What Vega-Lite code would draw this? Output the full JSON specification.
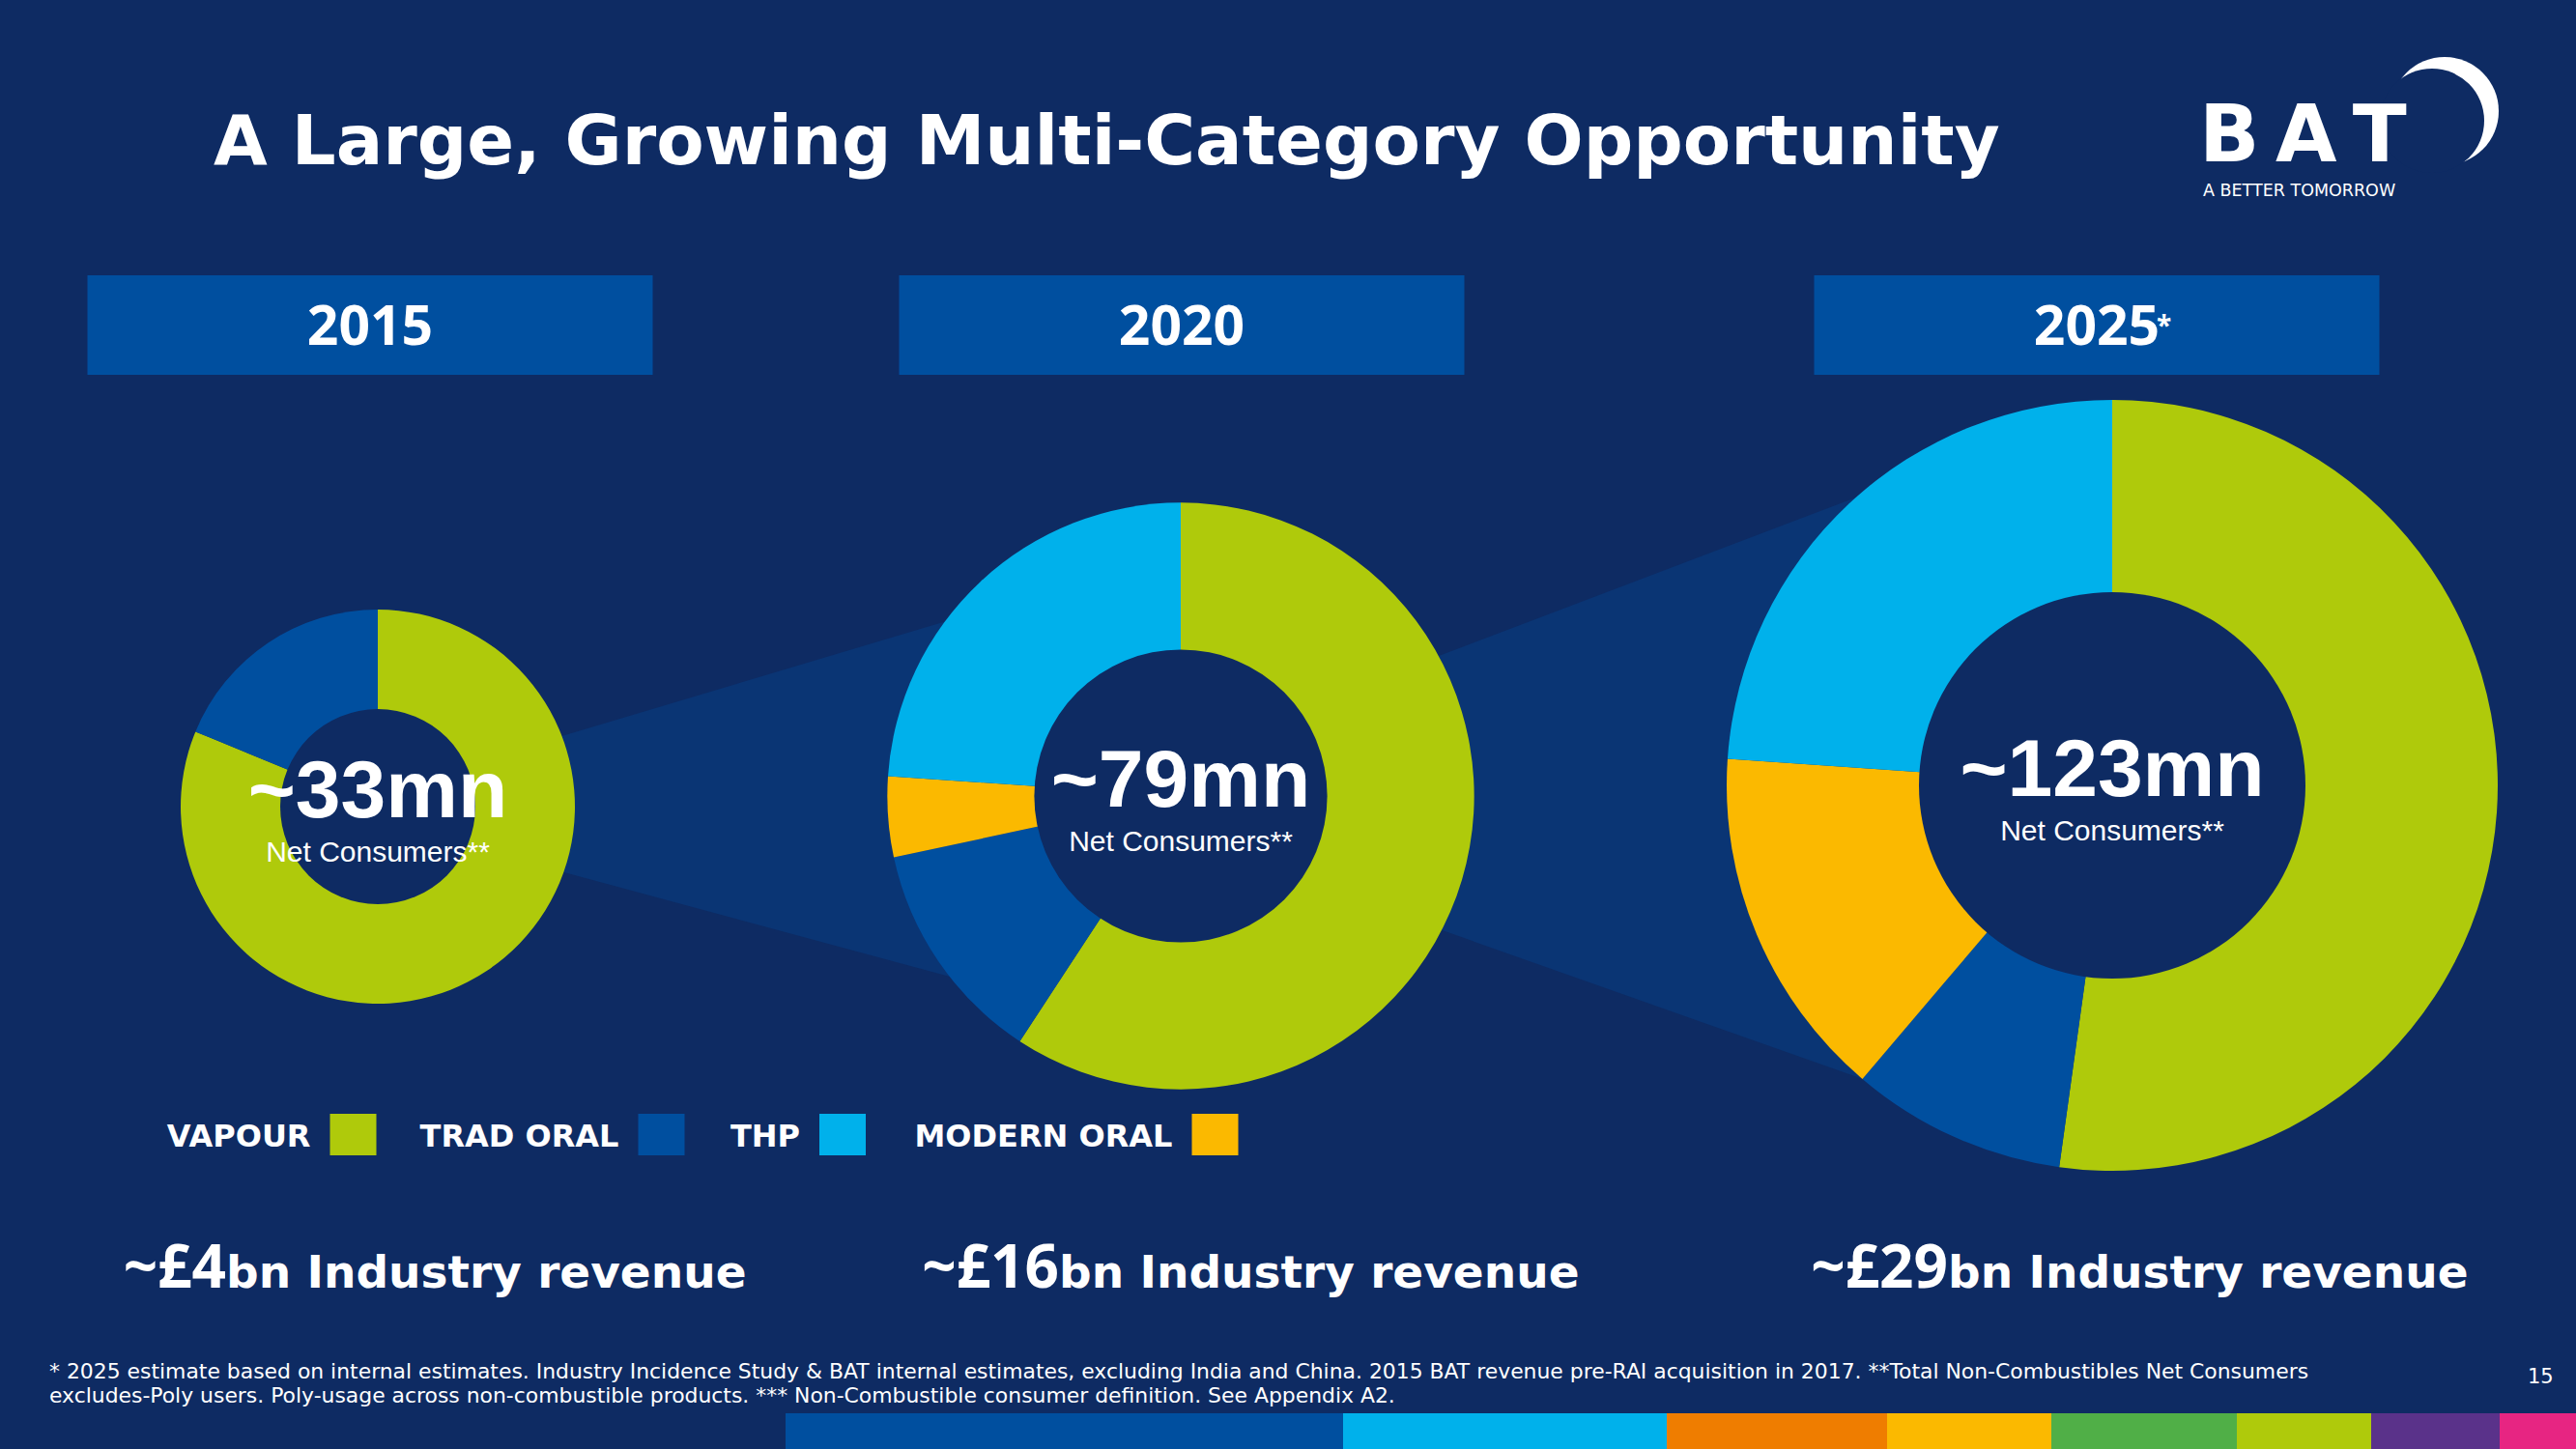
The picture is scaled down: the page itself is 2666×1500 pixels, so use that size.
{
  "$schema": "https://vega.github.io/schema/vega-lite/v6.json",
  "width": 2666,
  "height": 1500,
  "autosize": {"type": "fit", "contains": "padding"},
  "padding": 0,
  "background": "#0e2b63",
  "config": {"view": {"stroke": null}},
  "datasets": {
    "years": [
      {"year": 2015, "total": 33, "consumers": "~33mn", "rev": "~£4", "note": ""},
      {"year": 2020, "total": 79, "consumers": "~79mn", "rev": "~£16", "note": ""},
      {"year": 2025, "total": 123, "consumers": "~123mn", "rev": "~£29", "note": "*"}
    ],
    "segments": [
      {"year": 2015, "category": "Vapour", "order": 1, "value": 26.8},
      {"year": 2015, "category": "Trad Oral", "order": 2, "value": 6.2},
      {"year": 2020, "category": "Vapour", "order": 1, "value": 46.8},
      {"year": 2020, "category": "Trad Oral", "order": 2, "value": 9.8},
      {"year": 2020, "category": "Modern Oral", "order": 3, "value": 3.5},
      {"year": 2020, "category": "THP", "order": 4, "value": 18.9},
      {"year": 2025, "category": "Vapour", "order": 1, "value": 64.2},
      {"year": 2025, "category": "Trad Oral", "order": 2, "value": 11.1},
      {"year": 2025, "category": "Modern Oral", "order": 3, "value": 18.3},
      {"year": 2025, "category": "THP", "order": 4, "value": 29.4}
    ],
    "connectors": [
      {"band": "a", "year": 2015, "total": 33},
      {"band": "a", "year": 2020, "total": 79},
      {"band": "b", "year": 2020, "total": 79},
      {"band": "b", "year": 2025, "total": 123}
    ],
    "categories": [
      {"category": "Vapour", "label": "VAPOUR", "slot": 1},
      {"category": "Trad Oral", "label": "TRAD ORAL", "slot": 2},
      {"category": "THP", "label": "THP", "slot": 3},
      {"category": "Modern Oral", "label": "MODERN ORAL", "slot": 4}
    ],
    "palette": [
      {"i": 0, "j": 1, "name": "Blue"},
      {"i": 1, "j": 2, "name": "Light Blue"},
      {"i": 2, "j": 3, "name": "Orange"},
      {"i": 3, "j": 4, "name": "Yellow"},
      {"i": 4, "j": 5, "name": "Green"},
      {"i": 5, "j": 6, "name": "Lime"},
      {"i": 6, "j": 7, "name": "Purple"},
      {"i": 7, "j": 8, "name": "Pink"}
    ]
  },
  "resolve": {"scale": {"x": "independent", "y": "independent", "size": "independent", "radius": "independent", "theta": "independent", "color": "independent"}},
  "layer": [
    {
      "data": {"name": "connectors"},
      "transform": [{"filter": "datum.band === 'a'"}],
      "mark": {"type": "trail", "color": "#0a3574"},
      "encoding": {
        "x": {"field": "year", "type": "quantitative", "axis": null, "scale": {"type": "linear", "domain": [2015, 2020, 2025], "range": [391, 1222, 2186], "zero": false, "nice": false}},
        "y": {"field": "year", "type": "quantitative", "axis": null, "scale": {"type": "linear", "domain": [2015, 2025], "range": [835, 813], "zero": false, "nice": false}},
        "size": {"field": "total", "type": "quantitative", "legend": null, "scale": {"type": "linear", "domain": [33, 79], "range": [32, 505], "zero": false, "nice": false}}
      }
    },
    {
      "data": {"name": "connectors"},
      "transform": [{"filter": "datum.band === 'b'"}],
      "mark": {"type": "trail", "color": "#0a3574"},
      "encoding": {
        "x": {"field": "year", "type": "quantitative", "axis": null, "scale": {"type": "linear", "domain": [2015, 2020, 2025], "range": [391, 1222, 2186], "zero": false, "nice": false}},
        "y": {"field": "year", "type": "quantitative", "axis": null, "scale": {"type": "linear", "domain": [2015, 2025], "range": [835, 813], "zero": false, "nice": false}},
        "size": {"field": "total", "type": "quantitative", "legend": null, "scale": {"type": "linear", "domain": [79, 123], "range": [87, 794], "zero": false, "nice": false}}
      }
    },
    {
      "data": {"name": "years"},
      "mark": {"type": "rect", "width": 585, "y": 285, "y2": 388, "color": "#004f9f"},
      "encoding": {
        "x": {"field": "year", "type": "quantitative", "axis": null, "scale": {"type": "linear", "domain": [2015, 2020, 2025], "range": [383, 1223, 2170], "zero": false, "nice": false}}
      }
    },
    {
      "data": {"name": "years"},
      "mark": {"type": "text", "y": 357, "baseline": "alphabetic", "align": "center", "font": "Open Sans", "fontWeight": "bold", "fontSize": 57, "color": "white"},
      "encoding": {
        "x": {"field": "year", "type": "quantitative", "axis": null, "scale": {"type": "linear", "domain": [2015, 2020, 2025], "range": [383, 1223, 2170], "zero": false, "nice": false}},
        "text": {"field": "year", "type": "nominal"}
      }
    },
    {
      "data": {"name": "years"},
      "transform": [{"filter": "datum.note !== ''"}],
      "mark": {"type": "text", "y": 347, "dx": 62, "baseline": "alphabetic", "align": "left", "font": "Open Sans", "fontWeight": "bold", "fontSize": 28, "color": "white"},
      "encoding": {
        "x": {"field": "year", "type": "quantitative", "axis": null, "scale": {"type": "linear", "domain": [2015, 2020, 2025], "range": [383, 1223, 2170], "zero": false, "nice": false}},
        "text": {"field": "note", "type": "nominal"}
      }
    },
    {
      "data": {"name": "segments"},
      "transform": [
        {"joinaggregate": [{"op": "sum", "field": "value", "as": "total"}], "groupby": ["year"]},
        {"stack": "value", "groupby": ["year"], "sort": [{"field": "order", "order": "ascending"}], "offset": "normalize", "as": ["v0", "v1"]}
      ],
      "mark": {"type": "arc", "radius2": 0},
      "encoding": {
        "x": {"field": "year", "type": "quantitative", "axis": null, "scale": {"type": "linear", "domain": [2015, 2020, 2025], "range": [391, 1222, 2186], "zero": false, "nice": false}},
        "y": {"field": "year", "type": "quantitative", "axis": null, "scale": {"type": "linear", "domain": [2015, 2025], "range": [835, 813], "zero": false, "nice": false}},
        "radius": {"field": "total", "type": "quantitative", "stack": null, "scale": {"type": "linear", "domain": [33, 123], "range": [204, 399], "zero": false, "nice": false}},
        "theta": {"field": "v0", "type": "quantitative", "stack": null, "scale": {"domain": [0, 1], "range": [0, 6.283185307]}},
        "theta2": {"field": "v1"},
        "color": {"field": "category", "type": "nominal", "legend": null, "scale": {"domain": ["Vapour", "Trad Oral", "Modern Oral", "THP"], "range": ["#afca0b", "#004f9f", "#fbb900", "#00b1eb"]}}
      }
    },
    {
      "data": {"name": "years"},
      "mark": {"type": "arc", "theta": 0, "theta2": 6.2832, "radius2": 0, "color": "#0e2b63"},
      "encoding": {
        "x": {"field": "year", "type": "quantitative", "axis": null, "scale": {"type": "linear", "domain": [2015, 2020, 2025], "range": [391, 1222, 2186], "zero": false, "nice": false}},
        "y": {"field": "year", "type": "quantitative", "axis": null, "scale": {"type": "linear", "domain": [2015, 2025], "range": [835, 813], "zero": false, "nice": false}},
        "radius": {"field": "total", "type": "quantitative", "stack": null, "scale": {"type": "linear", "domain": [33, 123], "range": [101, 200], "zero": false, "nice": false}}
      }
    },
    {
      "data": {"name": "years"},
      "mark": {"type": "text", "dy": 11, "baseline": "alphabetic", "align": "center", "font": "Liberation Sans", "fontWeight": "bold", "fontSize": 84, "color": "white"},
      "encoding": {
        "x": {"field": "year", "type": "quantitative", "axis": null, "scale": {"type": "linear", "domain": [2015, 2020, 2025], "range": [391, 1222, 2186], "zero": false, "nice": false}},
        "y": {"field": "year", "type": "quantitative", "axis": null, "scale": {"type": "linear", "domain": [2015, 2025], "range": [835, 813], "zero": false, "nice": false}},
        "text": {"field": "consumers", "type": "nominal"}
      }
    },
    {
      "data": {"name": "years"},
      "mark": {"type": "text", "text": "Net Consumers**", "dy": 57, "baseline": "alphabetic", "align": "center", "font": "Liberation Sans", "fontSize": 30, "color": "white"},
      "encoding": {
        "x": {"field": "year", "type": "quantitative", "axis": null, "scale": {"type": "linear", "domain": [2015, 2020, 2025], "range": [391, 1222, 2186], "zero": false, "nice": false}},
        "y": {"field": "year", "type": "quantitative", "axis": null, "scale": {"type": "linear", "domain": [2015, 2025], "range": [835, 813], "zero": false, "nice": false}}
      }
    },
    {
      "data": {"name": "years"},
      "mark": {"type": "text", "y": 1333, "baseline": "alphabetic", "align": "right", "font": "Open Sans", "fontWeight": "bold", "fontSize": 62, "color": "white"},
      "encoding": {
        "x": {"field": "year", "type": "quantitative", "axis": null, "scale": {"type": "linear", "domain": [2015, 2020, 2025], "range": [234, 1096, 2016], "zero": false, "nice": false}},
        "text": {"field": "rev", "type": "nominal"}
      }
    },
    {
      "data": {"name": "years"},
      "mark": {"type": "text", "text": "bn Industry revenue", "y": 1333, "baseline": "alphabetic", "align": "left", "font": "DejaVu Sans", "fontWeight": "bold", "fontSize": 47, "color": "white"},
      "encoding": {
        "x": {"field": "year", "type": "quantitative", "axis": null, "scale": {"type": "linear", "domain": [2015, 2020, 2025], "range": [234, 1096, 2016], "zero": false, "nice": false}}
      }
    },
    {
      "data": {"name": "categories"},
      "mark": {"type": "rect", "width": 48, "y": 1153, "y2": 1196},
      "encoding": {
        "x": {"field": "slot", "type": "quantitative", "axis": null, "scale": {"type": "linear", "domain": [1, 2, 3, 4], "range": [365.5, 684.5, 872, 1257.5], "zero": false, "nice": false}},
        "color": {"field": "category", "type": "nominal", "legend": null, "scale": {"domain": ["Vapour", "Trad Oral", "Modern Oral", "THP"], "range": ["#afca0b", "#004f9f", "#fbb900", "#00b1eb"]}}
      }
    },
    {
      "data": {"name": "categories"},
      "mark": {"type": "text", "y": 1187, "dx": -44, "baseline": "alphabetic", "align": "right", "font": "DejaVu Sans", "fontWeight": "bold", "fontSize": 32, "color": "white"},
      "encoding": {
        "x": {"field": "slot", "type": "quantitative", "axis": null, "scale": {"type": "linear", "domain": [1, 2, 3, 4], "range": [365.5, 684.5, 872, 1257.5], "zero": false, "nice": false}},
        "text": {"field": "label", "type": "nominal"}
      }
    },
    {
      "data": {"name": "palette"},
      "mark": {"type": "rect", "y": 1463, "y2": 1500},
      "encoding": {
        "x": {"field": "i", "type": "quantitative", "axis": null, "scale": {"type": "linear", "domain": [0, 1, 2, 3, 4, 5, 6, 7, 8], "range": [813, 1390, 1725, 1953, 2123, 2315, 2454, 2587, 2666], "zero": false, "nice": false}},
        "x2": {"field": "j"},
        "color": {"field": "name", "type": "nominal", "legend": null, "scale": {"domain": ["Blue", "Light Blue", "Orange", "Yellow", "Green", "Lime", "Purple", "Pink"], "range": ["#004f9f", "#00b1eb", "#ef7d00", "#fbb900", "#50af47", "#afca0b", "#5a328a", "#e72582"]}}
      }
    },
    {
      "data": {"values": [{}]},
      "mark": {"type": "text", "text": "A Large, Growing Multi-Category Opportunity", "x": 221, "y": 170, "align": "left", "baseline": "alphabetic", "font": "DejaVu Sans", "fontWeight": "bold", "fontSize": 72, "color": "white"},
      "encoding": {}
    },
    {
      "data": {"values": [{}]},
      "mark": {"type": "text", "text": ["* 2025 estimate based on internal estimates. Industry Incidence Study & BAT internal estimates, excluding India and China. 2015 BAT revenue pre-RAI acquisition in 2017. **Total Non-Combustibles Net Consumers", "excludes-Poly users. Poly-usage across non-combustible products. *** Non-Combustible consumer definition. See Appendix A2."], "x": 51, "y": 1427, "lineHeight": 25, "align": "left", "baseline": "alphabetic", "font": "DejaVu Sans", "fontSize": 21.9, "color": "white"},
      "encoding": {}
    },
    {
      "data": {"values": [{}]},
      "mark": {"type": "text", "text": "15", "x": 2616, "y": 1432, "align": "left", "baseline": "alphabetic", "font": "DejaVu Sans", "fontSize": 21, "color": "white"},
      "encoding": {}
    },
    {
      "data": {"values": [{}]},
      "mark": {"type": "arc", "x": 2530, "y": 115, "outerRadius": 56, "innerRadius": 0, "theta": 0, "theta2": 6.2832, "color": "white"},
      "encoding": {}
    },
    {
      "data": {"values": [{}]},
      "mark": {"type": "arc", "x": 2517, "y": 125, "outerRadius": 54, "innerRadius": 0, "theta": 0, "theta2": 6.2832, "color": "#0e2b63"},
      "encoding": {}
    },
    {
      "data": {"values": [{}]},
      "mark": {"type": "text", "text": "B\u2009A\u2009T", "x": 2276, "y": 167, "align": "left", "baseline": "alphabetic", "font": "DejaVu Sans", "fontWeight": "bold", "fontSize": 82, "color": "white"},
      "encoding": {}
    },
    {
      "data": {"values": [{}]},
      "mark": {"type": "text", "text": "A BETTER TOMORROW", "x": 2280, "y": 203, "align": "left", "baseline": "alphabetic", "font": "DejaVu Sans", "fontSize": 17.5, "color": "white"},
      "encoding": {}
    }
  ]
}
